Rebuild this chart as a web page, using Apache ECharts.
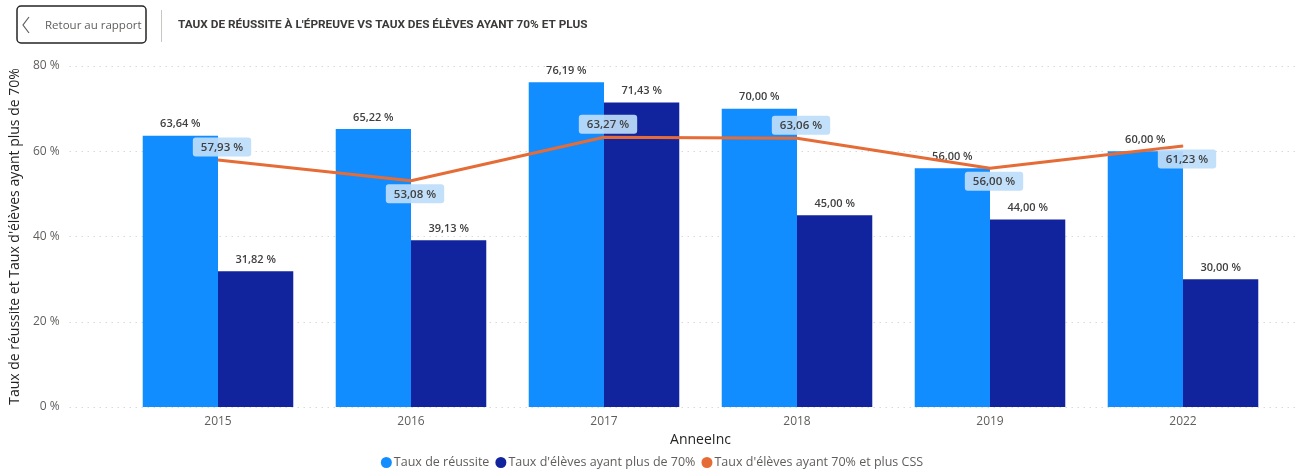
<!DOCTYPE html>
<html>
<head>
<meta charset="utf-8">
<script src="https://cdn.jsdelivr.net/npm/echarts@6/dist/echarts.min.js"></script>
<style>
  html, body { margin: 0; padding: 0; background: #fff; }
  #chart { width: 1304px; height: 475px; }
</style>
</head>
<body>
<div id="chart"></div>
<script>
const years = ['2015', '2016', '2017', '2018', '2019', '2022']
const tauxReussite = [63.64, 65.22, 76.19, 70.00, 56.00, 60.00]
const tauxPlus70 = [31.82, 39.13, 71.43, 45.00, 44.00, 30.00]
const tauxPlus70Css = [57.93, 53.08, 63.27, 63.06, 56.00, 61.23]

const font = '"Open Sans", "Noto Sans", sans-serif'

// format à la française : 63,64 %
function pct(v) {
  return v.toFixed(2).replace('.', ',') + ' %'
}

// Power BI alterne les étiquettes au-dessus / en dessous de la ligne
const cssLabelSide = ['top', 'bottom', 'top', 'top', 'bottom', 'bottom']

const chart = echarts.init(document.getElementById('chart'))

chart.setOption({
  animation: false,
  textStyle: { fontFamily: font },
  graphic: [
    {
      type: 'rect',
      shape: { x: 17, y: 6, width: 129, height: 37, r: 4 },
      style: { fill: '#fff', stroke: '#252423', lineWidth: 1.5 }
    },
    {
      type: 'polyline',
      shape: { points: [[29, 17], [23, 25], [29, 33]] },
      style: { stroke: '#605e5c', lineWidth: 1.2, fill: null }
    },
    {
      type: 'text',
      x: 45, y: 26,
      style: { text: 'Retour au rapport', font: '11.5px ' + font, fill: '#605e5c', verticalAlign: 'middle' }
    },
    {
      type: 'line',
      shape: { x1: 161.5, y1: 10, x2: 161.5, y2: 42 },
      style: { stroke: '#c8c6c4', lineWidth: 1 }
    },
    {
      type: 'text',
      x: 178, y: 25.5,
      style: {
        text: "TAUX DE RÉUSSITE À L'ÉPREUVE VS TAUX DES ÉLÈVES AYANT 70% ET PLUS",
        font: 'bold 11.8px Roboto, sans-serif', fill: '#3b3a39', verticalAlign: 'middle'
      }
    }
  ],
  legend: {
    bottom: 1,
    left: 'center',
    icon: 'circle',
    itemWidth: 11,
    itemHeight: 11,
    itemGap: 6,
    textStyle: { fontSize: 12.5, color: '#605e5c', padding: [0, 0, 0, -3] },
    data: ['Taux de réussite', "Taux d'élèves ayant plus de 70%", "Taux d'élèves ayant 70% et plus CSS"]
  },
  grid: [
    { left: 121.5, right: 24.5, top: 66, bottom: 68 },
    { left: 65, right: 9, top: 66, bottom: 68 }
  ],
  xAxis: [
    {
      type: 'category',
      gridIndex: 0,
      data: years,
      axisLine: { show: false },
      axisTick: { show: false },
      axisLabel: { color: '#605e5c', fontSize: 12, margin: 9 },
      name: 'AnneeInc',
      nameLocation: 'middle',
      nameGap: 23,
      nameTextStyle: { color: '#252423', fontSize: 14 }
    },
    {
      type: 'value',
      gridIndex: 1,
      min: 0, max: 1,
      show: false
    }
  ],
  yAxis: [
    {
      type: 'value',
      gridIndex: 0,
      min: 0, max: 80,
      show: false
    },
    {
      type: 'value',
      gridIndex: 1,
      min: 0, max: 80, interval: 20,
      axisLine: { show: false },
      axisTick: { show: false },
      axisLabel: { color: '#605e5c', fontSize: 12, margin: 10, formatter: v => v + ' %' },
      splitLine: { lineStyle: { color: '#c8c6c4', type: [1, 5], width: 1 } },
      name: "Taux de réussite et Taux d'élèves ayant plus de 70%",
      nameLocation: 'middle',
      nameGap: 44,
      nameTextStyle: { color: '#252423', fontSize: 14 }
    }
  ],
  series: [
    {
      name: 'Taux de réussite',
      type: 'bar',
      xAxisIndex: 0, yAxisIndex: 0,
      data: tauxReussite,
      barGap: '0%',
      barCategoryGap: '22%',
      itemStyle: { color: '#118dff' },
      label: {
        show: true, position: 'top', distance: 6,
        color: '#404040', fontSize: 11, fontWeight: 600,
        formatter: p => pct(p.value)
      }
    },
    {
      name: "Taux d'élèves ayant plus de 70%",
      type: 'bar',
      xAxisIndex: 0, yAxisIndex: 0,
      data: tauxPlus70,
      itemStyle: { color: '#12239e' },
      label: {
        show: true, position: 'top', distance: 6,
        color: '#404040', fontSize: 11, fontWeight: 600,
        formatter: p => pct(p.value)
      }
    },
    {
      name: "Taux d'élèves ayant 70% et plus CSS",
      type: 'line',
      xAxisIndex: 0, yAxisIndex: 0,
      data: tauxPlus70Css.map((v, i) => ({
        value: v,
        label: { position: cssLabelSide[i] }
      })),
      symbol: 'circle',
      symbolSize: 1,
      showSymbol: true,
      z: 5,
      lineStyle: { color: '#e66c37', width: 3 },
      itemStyle: { color: '#e66c37' },
      label: {
        show: true, distance: 3, offset: [4, 0],
        color: '#404040', fontSize: 11.5, fontWeight: 600,
        backgroundColor: 'rgba(190, 221, 250, 0.92)',
        borderRadius: 3,
        padding: [4, 8, 3, 8],
        formatter: p => pct(p.value)
      }
    }
  ]
})
</script>
</body>
</html>
